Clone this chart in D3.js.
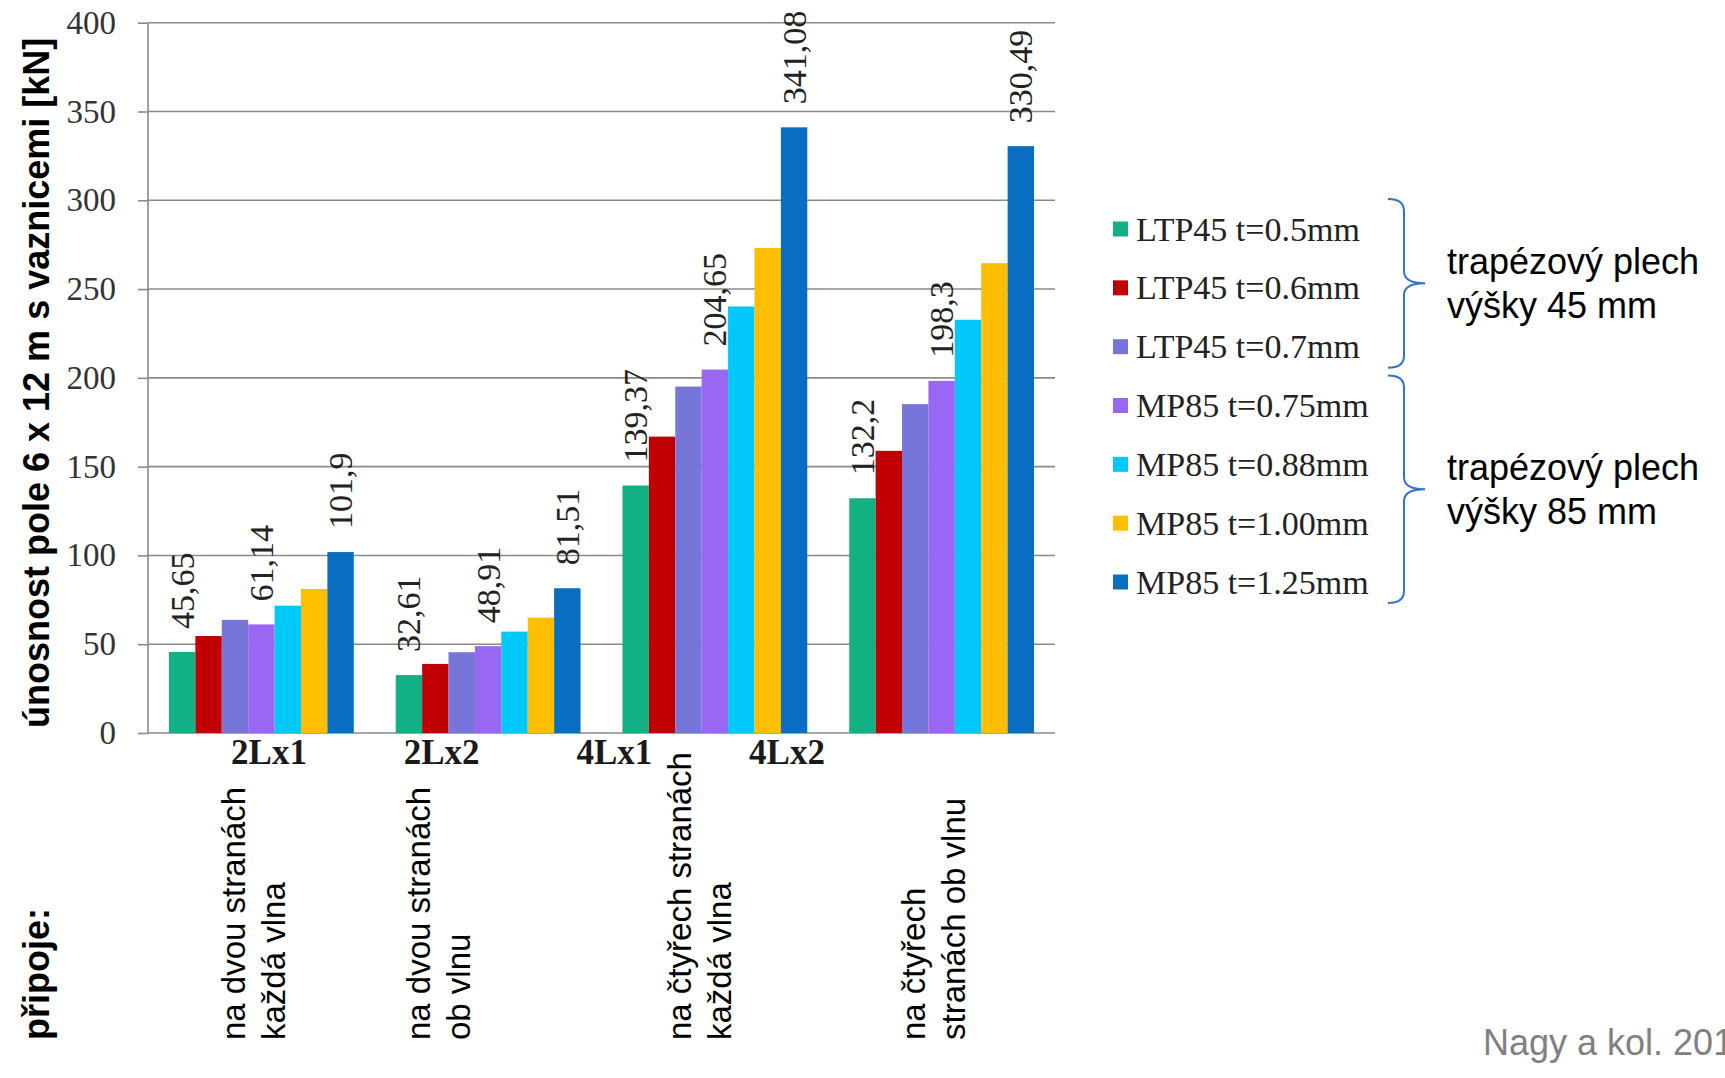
<!DOCTYPE html>
<html>
<head>
<meta charset="utf-8">
<script src="https://cdn.jsdelivr.net/npm/d3@7"></script>
<style>
  body { margin: 0; background: #fff; overflow: hidden; }
  svg { display: block; }
</style>
</head>
<body>
<svg id="chart" width="1725" height="1078"></svg>
<script>
// Connection variants (x axis categories)
const categories = ["2Lx1", "2Lx2", "4Lx1", "4Lx2"];
const connectionLines = [
  ["na dvou stranách", "každá vlna"],
  ["na dvou stranách", "ob vlnu"],
  ["na čtyřech stranách", "každá vlna"],
  ["na čtyřech", "stranách ob vlnu"]
];

// Sheet profiles and thicknesses (series)
const seriesNames = [
  "LTP45 t=0.5mm", "LTP45 t=0.6mm", "LTP45 t=0.7mm",
  "MP85 t=0.75mm", "MP85 t=0.88mm", "MP85 t=1.00mm", "MP85 t=1.25mm"
];
const seriesColors = ["#13b084", "#c00000", "#7676d8", "#9a66f4", "#00c9f9", "#ffbe00", "#0a6ec0"];

// Load capacity of the 6 x 12 m field [kN]
const ltp45_t050 = [45.65, 32.61, 139.37, 132.2];
const ltp45_t060 = [54.6, 38.9, 166.9, 158.9];
const ltp45_t070 = [63.7, 45.5, 195.1, 185.2];
const mp85_t075  = [61.14, 48.91, 204.65, 198.3];
const mp85_t088  = [71.7, 57.1, 240.2, 232.7];
const mp85_t100  = [81.1, 65.0, 273.1, 264.6];
const mp85_t125  = [101.9, 81.51, 341.08, 330.49];
const seriesValues = [ltp45_t050, ltp45_t060, ltp45_t070, mp85_t075, mp85_t088, mp85_t100, mp85_t125];

// Series whose bars carry a value label
const labeledSeries = [0, 3, 6];

const yTicks = [0, 50, 100, 150, 200, 250, 300, 350, 400];
const yTitle = "únosnost pole 6 x 12 m s vaznicemi [kN]";
const connTitle = "připoje:";

// Legend groups: [first series, last series, text lines]
const groupNotes = [
  [0, 2, ["trapézový plech", "výšky 45 mm"]],
  [3, 6, ["trapézový plech", "výšky 85 mm"]]
];
const sourceNote = "Nagy a kol. 2015";

// ---------------------------------------------------------------
const SERIF = "'Liberation Serif', 'Times New Roman', serif";
const SANS = "'Liberation Sans', Arial, sans-serif";

const svg = d3.select("#chart");
const plot = { left: 148, right: 1055, top: 22.7, bottom: 733 };

const x = d3.scaleBand()
  .domain(categories)
  .range([plot.left, plot.right])
  .paddingInner(0.185)
  .paddingOuter(0.0925);

const xs = d3.scaleBand()
  .domain(d3.range(seriesNames.length))
  .range([0, x.bandwidth()])
  .padding(0);

const y = d3.scaleLinear().domain([0, 400]).range([plot.bottom, plot.top]);

// Gridlines
svg.append("g")
  .selectAll("line")
  .data(yTicks)
  .join("line")
  .attr("x1", plot.left)
  .attr("x2", plot.right)
  .attr("y1", d => y(d))
  .attr("y2", d => y(d))
  .attr("stroke", "#8a8a8a")
  .attr("stroke-width", 1.6);

// Y axis
const yAxis = svg.append("g")
  .attr("transform", `translate(${plot.left},0)`)
  .call(d3.axisLeft(y).tickValues(yTicks).tickSize(10).tickPadding(22));
yAxis.select(".domain").remove();
yAxis.selectAll(".tick line").attr("stroke", "#8a8a8a").attr("stroke-width", 1.6);
yAxis.selectAll(".tick text")
  .attr("fill", "#333")
  .style("font-family", SERIF)
  .style("font-size", "33px");
svg.append("line")
  .attr("x1", plot.left).attr("x2", plot.left)
  .attr("y1", y(0)).attr("y2", y(400))
  .attr("stroke", "#8a8a8a").attr("stroke-width", 1.6);

// Bars
const groups = svg.append("g")
  .selectAll("g")
  .data(categories)
  .join("g")
  .attr("transform", d => `translate(${x(d)},0)`);

groups.selectAll("rect")
  .data((c, ci) => seriesValues.map((vals, si) => ({ si, v: vals[ci] })))
  .join("rect")
  .attr("x", d => xs(d.si))
  .attr("width", xs.bandwidth())
  .attr("y", d => y(d.v))
  .attr("height", d => y(0) - y(d.v))
  .attr("fill", d => seriesColors[d.si]);

// Value labels (rotated)
groups.selectAll("text.val")
  .data((c, ci) => labeledSeries.map(si => ({ si, v: seriesValues[si][ci] })))
  .join("text")
  .attr("class", "val")
  .attr("transform", d => `translate(${xs(d.si) + xs.bandwidth() / 2},${y(d.v) - 23}) rotate(-90)`)
  .attr("dominant-baseline", "central")
  .attr("fill", "#222")
  .style("font-family", SERIF)
  .style("font-size", "34px")
  .text(d => String(d.v).replace(".", ","));

// Category names row
const xLabel = d3.scalePoint().domain(categories).range([269, 787]);
svg.append("g")
  .selectAll("text")
  .data(categories)
  .join("text")
  .attr("x", d => xLabel(d))
  .attr("y", 764)
  .attr("text-anchor", "middle")
  .attr("fill", "#1a1a1a")
  .style("font-family", SERIF)
  .style("font-weight", "bold")
  .style("font-size", "35px")
  .text(d => d);

// Connection descriptions (rotated, two lines), nudged sideways per column
const descNudge = [0, -42, -7, 0];
const descG = svg.append("g");
categories.forEach((c, ci) => {
  const cx = x(c) + x.bandwidth() / 2 - 8 + descNudge[ci];
  connectionLines[ci].forEach((line, li) => {
    descG.append("text")
      .attr("transform", `translate(${cx - 20 + li * 40},1040) rotate(-90)`)
      .attr("dominant-baseline", "central")
      .attr("fill", "#000")
      .style("font-family", SANS)
      .style("font-size", "33px")
      .text(line);
  });
});

// Axis titles
svg.append("text")
  .attr("transform", `translate(36,${(plot.top + 10 + plot.bottom) / 2}) rotate(-90)`)
  .attr("text-anchor", "middle")
  .attr("dominant-baseline", "central")
  .attr("fill", "#000")
  .style("font-family", SANS)
  .style("font-weight", "bold")
  .style("font-size", "36px")
  .text(yTitle);

svg.append("text")
  .attr("transform", "translate(36,1040) rotate(-90)")
  .attr("dominant-baseline", "central")
  .attr("fill", "#000")
  .style("font-family", SANS)
  .style("font-weight", "bold")
  .style("font-size", "36px")
  .text(connTitle);

// Legend
const legendY = d3.scaleLinear().domain([0, 6]).range([229, 582]);
const legend = svg.append("g")
  .selectAll("g")
  .data(seriesNames)
  .join("g")
  .attr("transform", (d, i) => `translate(1113,${legendY(i)})`);
legend.append("rect")
  .attr("x", 0).attr("y", -7.5)
  .attr("width", 15).attr("height", 15)
  .attr("fill", (d, i) => seriesColors[i]);
legend.append("text")
  .attr("x", 23)
  .attr("dominant-baseline", "central")
  .attr("fill", "#222")
  .style("font-family", SERIF)
  .style("font-size", "34px")
  .text(d => d);

// Braces with group notes
const braceG = svg.append("g");
groupNotes.forEach(([a, b, lines]) => {
  const top = legendY(a) - 30, bot = legendY(b) + 21, mid = (top + bot) / 2;
  const hx = 1388, sx = 1404, tx = 1425, r = 12;
  const path = `M${hx},${top} Q${sx},${top} ${sx},${top + r} L${sx},${mid - r} ` +
    `Q${sx},${mid} ${tx},${mid} Q${sx},${mid} ${sx},${mid + r} ` +
    `L${sx},${bot - r} Q${sx},${bot} ${hx},${bot}`;
  braceG.append("path")
    .attr("d", path)
    .attr("fill", "none")
    .attr("stroke", "#2f74d0")
    .attr("stroke-width", 2);
  lines.forEach((t, li) => {
    braceG.append("text")
      .attr("x", 1447)
      .attr("y", mid - 9 + li * 44)
      .attr("fill", "#000")
      .style("font-family", SANS)
      .style("font-size", "36px")
      .text(t);
  });
});

// Source
svg.append("text")
  .attr("x", 1483)
  .attr("y", 1055)
  .attr("fill", "#808080")
  .style("font-family", SANS)
  .style("font-size", "36px")
  .text(sourceNote);
</script>
</body>
</html>
